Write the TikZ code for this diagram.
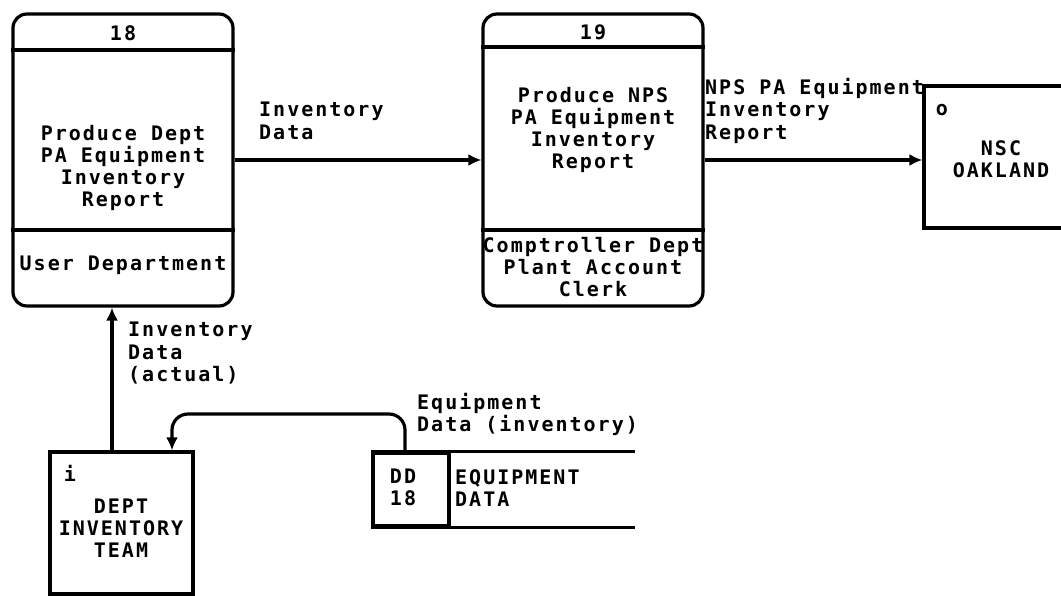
\documentclass[tikz,border=0pt]{standalone}
\usepackage{fontspec}
\usetikzlibrary{arrows.meta,calc}
\newfontfamily\pf[LetterSpace=10]{DejaVu Sans Mono Bold}
\begin{document}
\begin{tikzpicture}[x=1pt,y=-1pt,
  lw/.style={line width=3.2pt},
  proc/.style={draw, lw, rounded corners=14pt, minimum width=220pt, minimum height=292pt, inner sep=0pt},
  ext/.style={draw, lw, inner sep=0pt},
  txt/.style={font=\pf\fontsize{20}{22}\selectfont, align=center, inner sep=0pt},
  ltxt/.style={font=\pf\fontsize{20}{22.5}\selectfont, align=left, inner sep=0pt, anchor=north west},
  arr/.style={lw, -{Latex[length=13pt,width=12pt]}}]
\clip (0,0) rectangle (1061,596);
\fill[white] (0,0) rectangle (1061,596);
% process 18
\node[proc] (p18) at (123,160) {};
\draw[lw] (p18.west |- 0,50) -- (p18.east |- 0,50);
\draw[lw] (p18.west |- 0,230) -- (p18.east |- 0,230);
\node[txt] (n18) at (123,33) {18};
\node[txt] (t18) at (123,168) {Produce Dept\\PA Equipment\\Inventory\\Report};
\node[txt] (u18) at (123,265) {User Department};
% process 19
\node[proc] (p19) at (593,160) {};
\draw[lw] (p19.west |- 0,47) -- (p19.east |- 0,47);
\draw[lw] (p19.west |- 0,230) -- (p19.east |- 0,230);
\node[txt] (n19) at (593,32) {19};
\node[txt] (t19) at (593,130) {Produce NPS\\PA Equipment\\Inventory\\Report};
\node[txt] (u19) at (593,267) {Comptroller Dept\\Plant Account\\Clerk};
% external NSC
\node[ext, minimum width=154pt, minimum height=142pt] (nsc) at (1001,157) {};
\node[txt] (no) at (942,110) {o};
\node[txt] (nt) at (1001,159) {NSC\\OAKLAND};
% external team
\node[ext, minimum width=143pt, minimum height=142pt] (team) at (121.5,523) {};
\node[txt] (ti) at (70,473) {i};
\node[txt] (tt) at (121,528) {DEPT\\INVENTORY\\TEAM};
% data store
\node[ext, minimum width=76pt, minimum height=73pt] (ds) at (411,489.5) {};
\draw[lw] (ds.north west) -- (ds.north west -| 635,0);
\draw[lw] (ds.south west) -- (ds.south west -| 635,0);
\node[txt, anchor=north] (dsid) at (403,469) {DD\\18};
\node[ltxt] (dsn) at (455,469) {EQUIPMENT\\DATA};
% flows
\draw[arr] (p18.east) -- (p19.west);
\node[ltxt] (l1) at (259,102) {Inventory\\Data};
\draw[arr] (p19.east) -- (p19.east -| nsc.west);
\node[ltxt] (l2) at (705,78) {NPS PA Equipment\\Inventory\\Report};
\coordinate (ta) at ([xshift=-9.5pt]team.north);
\draw[arr] (ta) -- (ta |- p18.south);
\node[ltxt] (l3) at (128,322) {Inventory\\Data\\(actual)};
\coordinate (dsa) at ([xshift=-6pt]ds.north);
\coordinate (tb) at ([xshift=50.5pt]team.north);
\draw[arr, rounded corners=16pt] (dsa) -- (dsa |- 0,414) -- (tb |- 0,414) -- (tb);
\node[ltxt] (l4) at (417,393) {Equipment\\Data (inventory)};
\end{tikzpicture}
\end{document}
